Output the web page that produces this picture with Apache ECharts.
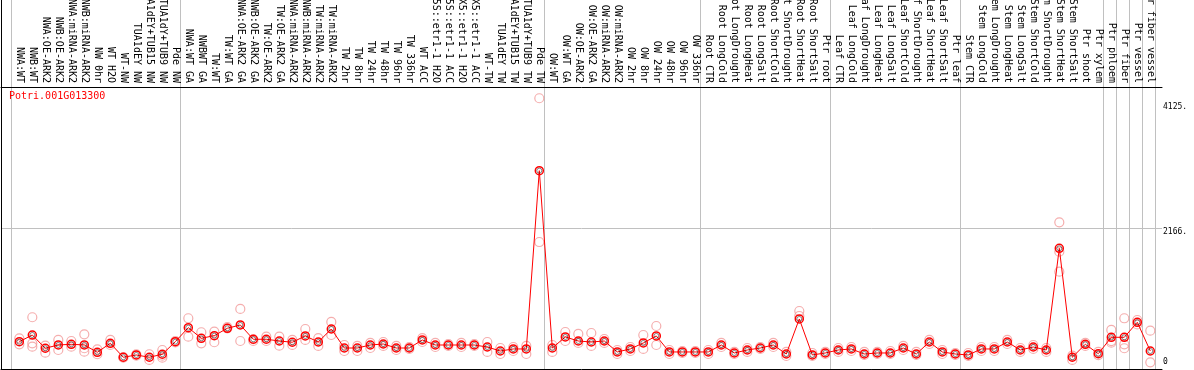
<!DOCTYPE html>
<html><head><meta charset="utf-8">
<script src="https://cdn.jsdelivr.net/npm/echarts@6/dist/echarts.min.js"></script>
<style>html,body{margin:0;padding:0;background:#fff}#c{width:1194px;height:370px}</style>
</head><body><div id="c"></div>
<script>
const chartTitle = 'Potri.001G013300';
const categories = [
 'NWA:WT','NWB:WT','NWA:OE-ARK2','NWB:OE-ARK2','NWA:miRNA-ARK2','NWB:miRNA-ARK2','NW 0hr','WT H2O','WT-NW','TUA1dEY NW','TUA1dEY+TUB15 NW','TUA1dY+TUB9 NW','Pde NW',
 'NWA:WT GA','NWBWT GA','TW:WT','TW:WT GA','NWA:OE-ARK2 GA','NWB:OE-ARK2 GA','TW:OE-ARK2','TW:OE-ARK2 GA','NWA:miRNA-ARK2','NWB:miRNA-ARK2','TW:miRNA-ARK2','TW:miRNA-ARK2',
 'TW 2hr','TW 8hr','TW 24hr','TW 48hr','TW 96hr','TW 336hr','WT ACC','35S::etr1-1 H2O','35S::etr1-1 ACC','LMX5::etr1-1 H2O','LMX5::etr1-1 ACC','WT-TW','TUA1dEY TW','TUA1dEY+TUB15 TW','TUA1dY+TUB9 TW','Pde TW',
 'OW:WT','OW:WT GA','OW:OE-ARK2','OW:OE-ARK2 GA','OW:miRNA-ARK2','OW:miRNA-ARK2','OW 2hr','OW 8hr','OW 24hr','OW 48hr','OW 96hr','OW 336hr',
 'Root CTR','Root LongCold','Root LongDrought','Root LongHeat','Root LongSalt','Root ShortCold','Root ShortDrought','Root ShortHeat','Root ShortSalt','Ptr root',
 'Leaf CTR','Leaf LongCold','Leaf LongDrought','Leaf LongHeat','Leaf LongSalt','Leaf ShortCold','Leaf ShortDrought','Leaf ShortHeat','Leaf ShortSalt','Ptr leaf',
 'Stem CTR','Stem LongCold','Stem LongDrought','Stem LongHeat','Stem LongSalt','Stem ShortCold','Stem ShortDrought','Stem ShortHeat','Stem ShortSalt','Ptr shoot','Ptr xylem',
 'Ptr phloem','Ptr fiber','Ptr vessel','Ptr fiber vessel'
];
const means = [
 390,495,287,339,349,339,224,365,146,182,146,193,390,
 610,443,485,600,652,428,428,401,381,480,385,589,291,291,338,354,291,291,417,338,338,338,338,307,244,276,276,3070,
 291,464,401,385,401,229,276,370,480,229,229,229,
 229,338,213,260,291,338,197,746,182,213,
 260,276,197,213,213,291,197,385,229,197,
 182,276,276,385,260,307,260,1854,146,349,202,459,459,694,244
];
const rep1 = [
 443,773,328,417,401,506,271,417,146,193,193,260,400,
 757,538,547,620,903,428,469,469,417,589,447,699,338,323,370,385,323,307,447,370,354,370,354,385,291,307,323,4205,
 338,542,511,526,432,260,307,495,636,260,244,244,
 260,370,229,291,307,370,229,871,213,229,
 291,307,229,229,244,323,229,417,260,213,
 213,307,307,417,291,338,291,2261,171,370,230,574,757,730,563
];
const rep2 = [
 349,365,218,260,312,287,193,339,140,171,104,171,380,
 469,365,381,600,401,401,401,328,339,417,323,495,244,244,291,323,260,276,385,307,323,307,323,229,197,244,197,1952,
 229,401,370,323,370,197,244,276,338,197,213,213,
 197,307,197,229,276,307,166,793,166,197,
 229,244,182,197,197,260,182,354,197,182,
 166,244,244,354,229,276,229,1801,104,323,180,375,349,660,67
];
const rep3 = [
 null,312,null,null,null,234,null,null,null,null,null,140,null,
 null,null,null,null,null,null,null,null,null,null,null,null,null,null,null,null,null,null,null,null,null,null,null,null,null,null,null,null,
 null,null,null,null,null,null,null,null,null,null,null,null,
 null,null,null,null,null,null,null,null,null,null,
 null,null,null,null,null,null,null,null,null,null,
 null,null,null,null,null,null,null,1487,null,null,null,400,287,null,null
];
const groupEnds = [-1, 12, 40, 52, 62, 72, 83, 84, 85, 86, 87];
const yTicks = [0, 2166, 4125];

const MONO = 'DejaVu Sans Mono';
const repPoints = [];
[rep1, rep2, rep3].forEach(arr => arr.forEach((v, i) => { if (v != null) repPoints.push([i, v]); }));
const meanPoints = means.map((v, i) => [i, v]);

const chart = echarts.init(document.getElementById('c'), null, {renderer: 'canvas'});
chart.setOption({
  animation: false,
  backgroundColor: '#fff',
  title: {text: chartTitle, left: 9, top: 91, padding: 0,
    textStyle: {color: '#ff0000', fontSize: 10, fontWeight: 'normal', fontFamily: MONO}},
  grid: {left: 1, right: 32, top: 0, bottom: 1, containLabel: false, outerBoundsMode: 'none'},
  xAxis: [{
    type: 'value', position: 'top', offset: -87, min: -1.408, max: 87.9,
    axisLine: {show: true, onZero: false, lineStyle: {color: '#000', width: 1}},
    axisTick: {show: false}, splitLine: {show: false},
    axisLabel: {show: true, customValues: categories.map((_, i) => i),
      formatter: v => categories[Math.round(v)], rotate: 90, margin: 4,
      fontSize: 10, fontFamily: MONO, color: '#000', hideOverlap: false}
  }, {
    type: 'value', position: 'bottom', min: -1.408, max: 87.9,
    axisLine: {show: true, onZero: false, lineStyle: {color: '#000', width: 1}},
    axisTick: {show: false}, splitLine: {show: false}, axisLabel: {show: false}
  }],
  yAxis: [{
    type: 'value', position: 'right', min: -38, max: 5745,
    axisLine: {show: false, onZero: false}, axisTick: {show: false}, splitLine: {show: false},
    axisLabel: {show: true, customValues: yTicks, margin: 1, verticalAlign: 'middle',
      fontSize: 8, fontFamily: MONO, color: '#000',
      formatter: v => v === 0 ? '{z|0}' : '{n|' + v + '.}',
      rich: {
        n: {fontSize: 8, fontFamily: MONO, color: '#000', padding: [8, 0, 0, 0]},
        z: {fontSize: 8, fontFamily: MONO, color: '#000', padding: [0, 0, 10, 0]}
      }}
  }, {
    type: 'value', position: 'left', min: -38, max: 5745,
    axisLine: {show: true, onZero: false, lineStyle: {color: '#000', width: 1}},
    axisTick: {show: false}, splitLine: {show: false}, axisLabel: {show: false}
  }],
  series: [{
    type: 'scatter', xAxisIndex: 0, yAxisIndex: 0, z: 1,
    data: repPoints, symbol: 'circle', symbolSize: 9,
    itemStyle: {color: 'rgba(0,0,0,0)', borderColor: '#f29a9a', borderWidth: 1.2},
    silent: true
  }, {
    type: 'line', xAxisIndex: 0, yAxisIndex: 0, z: 3,
    data: meanPoints,
    symbol: 'circle', symbolSize: 8, showSymbol: true,
    lineStyle: {color: '#ff0000', width: 1},
    itemStyle: {color: 'rgba(0,0,0,0)', borderColor: '#ff0000', borderWidth: 1.5},
    silent: true,
    markLine: {
      silent: true, symbol: ['none', 'none'], label: {show: false}, z: 0,
      lineStyle: {color: '#c0c0c0', width: 1, type: 'solid'},
      data: groupEnds.map(e => ({xAxis: e + 0.38})).concat([{yAxis: yTicks[1]}])
    }
  }, {
    type: 'scatter', xAxisIndex: 0, yAxisIndex: 0, z: 4,
    data: meanPoints, symbol: 'circle', symbolSize: 5,
    itemStyle: {color: 'rgba(0,0,0,0)', borderColor: 'rgba(0,0,0,0.75)', borderWidth: 0.8},
    silent: true
  }]
});
</script>
</body></html>
